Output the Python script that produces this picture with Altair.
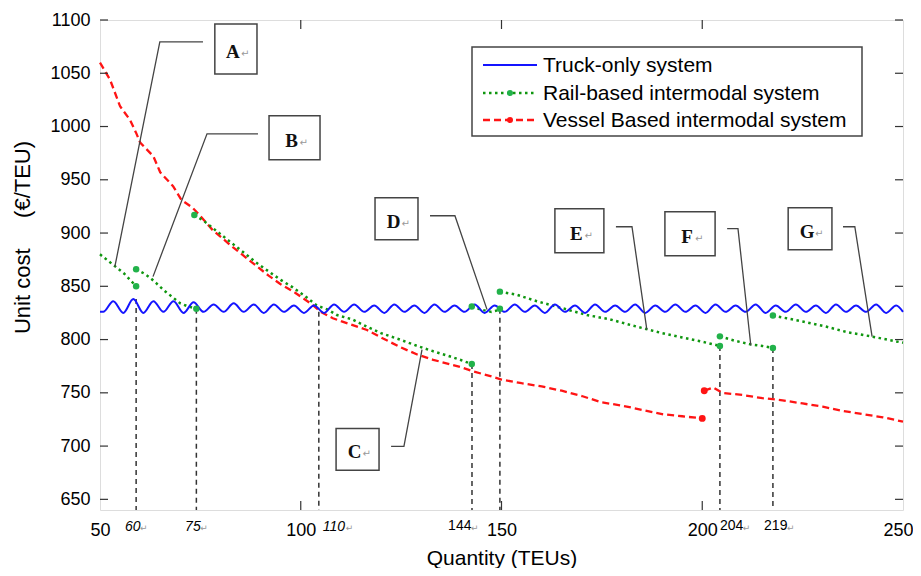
import altair as alt
import pandas as pd

TRUCK = "Truck-only system"
RAIL = "Rail-based intermodal system"
VESSEL = "Vessel Based intermodal system"
SERIES = [TRUCK, RAIL, VESSEL]
BLUE, GREEN, GREEN_DOT, RED = "#1414ff", "#0f960f", "#22b24a", "#ff1414"

# ---- Truck-only system (wavy) ----
truck_q = [50.0] + [round(50.8 + 2.5 * i, 1) for i in range(80)] + [250.0]
truck_cost = [826,
              826, 836, 825, 838, 825, 836, 826, 836, 825, 835,
              826, 833, 826, 834, 826, 833, 825, 833, 826, 832,
              825, 832, 825, 833, 826, 833, 826, 832, 825, 833,
              826, 832, 825, 833, 826, 832, 826, 833, 825, 832,
              826, 833, 826, 832, 825, 833, 826, 832, 825, 833,
              826, 832, 826, 833, 825, 832, 826, 833, 826, 832,
              825, 833, 826, 832, 826, 833, 825, 832, 826, 833,
              826, 832, 825, 833, 826, 832, 826, 833, 825, 832,
              826]

# ---- Rail-based intermodal system (segments) ----
rail_q1 = [50, 52, 54, 56, 57.5, 59]
rail_c1 = [880, 874, 868, 862, 856, 850]
rail_q2 = [59, 61, 62.5, 64, 66, 68, 70, 72, 74]
rail_c2 = [866, 862, 858, 853, 846, 840, 834, 831, 829]
rail_q3 = [73.5, 76, 78, 80, 83, 86, 89, 92, 95, 98, 101, 104, 106.8, 109,
           112.8, 116.5, 120, 124.7, 129, 133, 136.5, 139.7, 142.6]
rail_c3 = [917, 911, 905, 899, 890, 881, 872, 864, 856, 849, 841, 832, 828, 823,
           819, 812, 806, 800, 794, 789, 785, 781, 777]
rail_q4 = [142.6, 145, 147.5, 149.6]
rail_c4 = [831, 828, 826, 828]
rail_q5 = [149.6, 153.9, 158.8, 164.6, 171.3, 177, 182.8, 189.5, 195, 200, 204.4]
rail_c5 = [845, 842, 836, 830, 823, 819, 813, 806.5, 802, 798, 794]
rail_q6 = [204.4, 208, 212, 215, 217.6]
rail_c6 = [803, 799, 795.5, 794, 792]
rail_q7 = [217.6, 221, 225, 231, 236, 242, 246, 250]
rail_c7 = [822.5, 820, 817, 812, 807, 803, 800, 797]

# ---- Vessel based intermodal system (segments) ----
vessel_q1 = [50, 52.5, 55, 57.5, 59, 60, 63.3, 65, 68.2, 70.3, 73, 75, 78, 83, 88,
             92, 95, 98.6, 102.8, 105, 108, 110.2, 116.5, 120, 124.7, 129, 133, 137,
             140, 143, 147, 150, 155, 160, 165, 170, 175, 180, 185, 190, 195, 200]
vessel_c1 = [1060, 1044, 1019, 1006, 994, 985, 972, 957, 944, 931, 924, 916, 903, 887, 872,
             860, 852, 844, 833, 826, 820, 817, 809, 802, 793, 786, 781, 777,
             774, 770, 766, 762.5, 759, 756, 752, 747, 741, 738, 734, 730, 728, 726]
vessel_q2 = [200.5, 202.7, 205, 210, 215, 220, 225, 230, 235, 240, 245, 250]
vessel_c2 = [752, 755, 750, 748, 745, 743, 740, 737, 733, 730, 727, 723]

# ---- break-point dots ----
rail_dot_q = [59, 59, 74, 73.5, 142.6, 142.6, 149.6, 149.6, 204.4, 204.4, 217.6, 217.6]
rail_dot_c = [850, 866, 829, 917, 777, 831, 829, 845, 794, 803, 792, 822.5]
vessel_dot_q = [200, 200.5]
vessel_dot_c = [726, 752]

# ---- vertical dashed drop lines ----
drop_q = [59, 74, 104.5, 142.65, 149.6, 204.4, 217.6]
drop_top = [838, 829, 826, 777, 829, 794, 792]

# ---- extra x labels ----
extra_text = ["60", "75", "110", "144", "204", "219"]
extra_q = [56.2, 71.2, 105.5, 136.7, 204.4, 215.4]
extra_italic = [True, True, True, False, False, False]

# ---- annotation boxes ----
ann_label = ["A", "B", "C", "D", "E", "F", "G"]
box_q1 = [78.6, 92.1, 108.8, 118.5, 163.3, 190.7, 221.4]
box_q2 = [89.1, 104.8, 119.5, 129.2, 175.5, 203.2, 232.3]
box_top = [1096.25, 1010, 716.6, 933.1, 922.8, 920, 923.75]
box_bot = [1049.4, 968.75, 677.2, 893.75, 881.6, 878.75, 884.4]
lead_q = [[75.65, 64.9, 53.7], [89.35, 76.65, 63.2], [122.5, 125.7, 130.2],
          [132.2, 138.4, 146.4], [178.5, 182.5, 186.2], [206.2, 208.9, 212.1],
          [235.05, 238.0, 242.3]]
lead_c = [[1079.4, 1079.4, 868.4], [993.1, 993.1, 859.1], [699.7, 699.7, 790.6],
          [916.25, 916.25, 828.1], [905.9, 905.9, 809.4], [904.1, 904.1, 794.4],
          [905.9, 905.9, 802.8]]

y_ticks = [650, 700, 750, 800, 850, 900, 950, 1000, 1050, 1100]
x_ticks = [50, 100, 150, 200, 250]
x_inner_ticks = [100, 150, 200]

# ---------- build tables ----------
def seg_rows(segs):
    rows = []
    for k, (qs, cs) in enumerate(segs):
        for i, (q, c) in enumerate(zip(qs, cs)):
            rows.append({"seg": k, "i": i, "q": q, "cost": c})
    return pd.DataFrame(rows)

df_truck = seg_rows([(truck_q, truck_cost)])
df_rail = seg_rows([(rail_q1, rail_c1), (rail_q2, rail_c2), (rail_q3, rail_c3),
                    (rail_q4, rail_c4), (rail_q5, rail_c5), (rail_q6, rail_c6),
                    (rail_q7, rail_c7)])
df_vessel = seg_rows([(vessel_q1, vessel_c1), (vessel_q2, vessel_c2)])

df_rail_dots = pd.DataFrame({"q": rail_dot_q, "cost": rail_dot_c})
df_vessel_dots = pd.DataFrame({"q": vessel_dot_q, "cost": vessel_dot_c})
df_drop = pd.DataFrame({"q": drop_q, "cost": drop_top})
df_extra = pd.DataFrame({"q": extra_q, "text": extra_text, "italic": extra_italic})
df_extra["aq"] = [q + len(t) * 7.6 / 4.015 for q, t in zip(extra_q, extra_text)]
df_boxes = pd.DataFrame({"label": ann_label, "q": box_q1, "q2": box_q2,
                         "cost": box_top, "cost2": box_bot})
df_boxes["cq"] = (df_boxes["q"] + df_boxes["q2"]) / 2
df_boxes["cc"] = (df_boxes["cost"] + df_boxes["cost2"]) / 2
lead_rows = []
for lab, qs, cs in zip(ann_label, lead_q, lead_c):
    for i, (q, c) in enumerate(zip(qs, cs)):
        lead_rows.append({"label": lab, "i": i, "q": q, "cost": c})
df_lead = pd.DataFrame(lead_rows)
df_yt = pd.DataFrame({"cost": y_ticks})
df_xt = pd.DataFrame({"q": x_inner_ticks})

W, H = 803, 490
xs = alt.Scale(domain=[50, 250], nice=False, zero=False)
ys = alt.Scale(domain=[640, 1100], nice=False, zero=False)

FONT = "Liberation Sans"
x_axis = alt.Axis(values=x_ticks, title="Quantity (TEUs)", ticks=False, domain=False,
                  grid=False, labelFontSize=18, labelPadding=11, titleFontSize=21,
                  titleFontWeight="normal", titleY=54, titleBaseline="alphabetic",
                  labelFlush=False, format="d",
                  labelOffset={"condition": {"test": "datum.value == 250", "value": -5},
                               "value": 0})
y_axis = alt.Axis(values=y_ticks, title="Unit cost\u00a0\u00a0\u00a0\u00a0\u00a0(€/TEU)",
                  ticks=False, domain=False, grid=False, labelFontSize=18, format="d",
                  labelPadding=10, titleFontSize=22, titleFontWeight="normal",
                  titleX=-78, titleY=217, titleBaseline="middle")

X = alt.X("q:Q", scale=xs, axis=x_axis)
Y = alt.Y("cost:Q", scale=ys, axis=y_axis)
Xn = alt.X("q:Q", scale=xs)
Yn = alt.Y("cost:Q", scale=ys)

drops = alt.Chart(df_drop).mark_rule(color="#333", strokeWidth=1.5, strokeDash=[5, 4]).encode(
    x=X, y=Y, y2=alt.value(H))

vessel_line = alt.Chart(df_vessel).mark_line(color=RED, strokeWidth=2.3, strokeDash=[7, 4]).encode(
    x=Xn, y=Yn, detail="seg:N", order="i:Q")
rail_line = alt.Chart(df_rail).mark_line(color=GREEN, strokeWidth=2.5, strokeDash=[2.5, 3.5]).encode(
    x=Xn, y=Yn, detail="seg:N", order="i:Q")
truck_line = alt.Chart(df_truck).mark_line(color=BLUE, strokeWidth=2, interpolate="monotone").encode(
    x=Xn, y=Yn, detail="seg:N", order="i:Q")

rail_dots = alt.Chart(df_rail_dots).mark_circle(size=42, opacity=1, color=GREEN_DOT).encode(x=Xn, y=Yn)
vessel_dots = alt.Chart(df_vessel_dots).mark_circle(size=48, opacity=1, color=RED).encode(x=Xn, y=Yn)

lead = alt.Chart(df_lead).mark_line(color="#444", strokeWidth=1.3).encode(
    x=Xn, y=Yn, detail="label:N", order="i:Q")
boxes = alt.Chart(df_boxes).mark_rect(fill="white", stroke="#444", strokeWidth=1.5).encode(
    x=Xn, x2="q2:Q", y=Yn, y2="cost2:Q")
letters = alt.Chart(df_boxes).mark_text(font="Liberation Serif", fontSize=19, fontWeight="bold",
                                        color="#111", align="center", baseline="middle",
                                        dx=-3, dy=3).encode(
    x=alt.X("cq:Q", scale=xs), y=alt.Y("cc:Q", scale=ys), text="label:N")
letter_arrows = alt.Chart(df_boxes).mark_text(font="DejaVu Sans", fontSize=10, color="#999",
                                              align="left", baseline="middle", dx=5, dy=5).encode(
    x=alt.X("cq:Q", scale=xs), y=alt.Y("cc:Q", scale=ys), text=alt.value("↵"))

extra_it = alt.Chart(df_extra[df_extra["italic"]]).mark_text(
    font=FONT, fontSize=14, fontStyle="italic", align="left", baseline="alphabetic",
    color="black").encode(x=Xn, y=alt.value(511), text="text:N")
extra_rg = alt.Chart(df_extra[~df_extra["italic"]]).mark_text(
    font=FONT, fontSize=14, align="left", baseline="alphabetic",
    color="black").encode(x=Xn, y=alt.value(510), text="text:N")
extra_arrows = alt.Chart(df_extra).mark_text(
    font="DejaVu Sans", fontSize=9, align="left", baseline="alphabetic",
    color="#999").encode(x=alt.X("aq:Q", scale=xs), y=alt.value(511), text=alt.value("↵"))

lt = alt.Chart(df_yt).mark_rule(color="#333", strokeWidth=1.2).encode(
    y=Yn, x=alt.value(0), x2=alt.value(8))
rt = alt.Chart(df_yt).mark_rule(color="#333", strokeWidth=1.2).encode(
    y=Yn, x=alt.value(W - 8), x2=alt.value(W))
tt = alt.Chart(df_xt).mark_rule(color="#333", strokeWidth=1.2).encode(
    x=Xn, y=alt.value(0), y2=alt.value(9))
bt = alt.Chart(df_xt).mark_rule(color="#333", strokeWidth=1.2).encode(
    x=Xn, y=alt.value(H - 9), y2=alt.value(H))

# ---- legend (drawn as marks, positioned in the plot's pixel frame) ----
df_leg = pd.DataFrame({"label": SERIES})
LX0, LX1, LY0, LY1 = 372, 762, 27, 116
ROW_Y = [45, 73, 100]
SYM0, SYM1, TXT = 383, 437, 443
leg_box = alt.Chart(df_leg.head(1)).mark_rect(fill="white", stroke="#444", strokeWidth=1.5).encode(
    x=alt.value(LX0), x2=alt.value(LX1), y=alt.value(LY0), y2=alt.value(LY1))
leg_layers = [leg_box]
styles = [(BLUE, [1, 0], 2.2, None), (GREEN, [2.5, 3.5], 2.5, GREEN_DOT), (RED, [7, 4], 2.3, RED)]
for k, (name, (col, dash, sw, dot)) in enumerate(zip(SERIES, styles)):
    row = df_leg.iloc[[k]]
    leg_layers.append(alt.Chart(row).mark_rule(color=col, strokeWidth=sw, strokeDash=dash).encode(
        x=alt.value(SYM0), x2=alt.value(SYM1), y=alt.value(ROW_Y[k])))
    if dot:
        leg_layers.append(alt.Chart(row).mark_circle(color=dot, size=36, opacity=1).encode(
            x=alt.value((SYM0 + SYM1) / 2), y=alt.value(ROW_Y[k])))
    leg_layers.append(alt.Chart(row).mark_text(font=FONT, fontSize=21, align="left",
                                               baseline="middle", color="black").encode(
        x=alt.value(TXT), y=alt.value(ROW_Y[k] + 1), text="label:N"))

chart = alt.layer(
    drops, vessel_line, rail_line, truck_line, rail_dots, vessel_dots, lead, boxes,
    letters, letter_arrows, extra_it, extra_rg, extra_arrows, lt, rt, tt, bt, *leg_layers
).properties(
    width=W, height=H,
    autosize=alt.AutoSizeParams(type="none"),
    padding={"left": 92, "top": 12, "right": 10, "bottom": 58},
).configure_view(
    stroke="#333", strokeWidth=1.3
).configure_axis(
    labelFont=FONT, titleFont=FONT, labelColor="black", titleColor="black"
).configure(background="white")

chart.save("out.html", embed_options={"renderer": "svg", "actions": False})
